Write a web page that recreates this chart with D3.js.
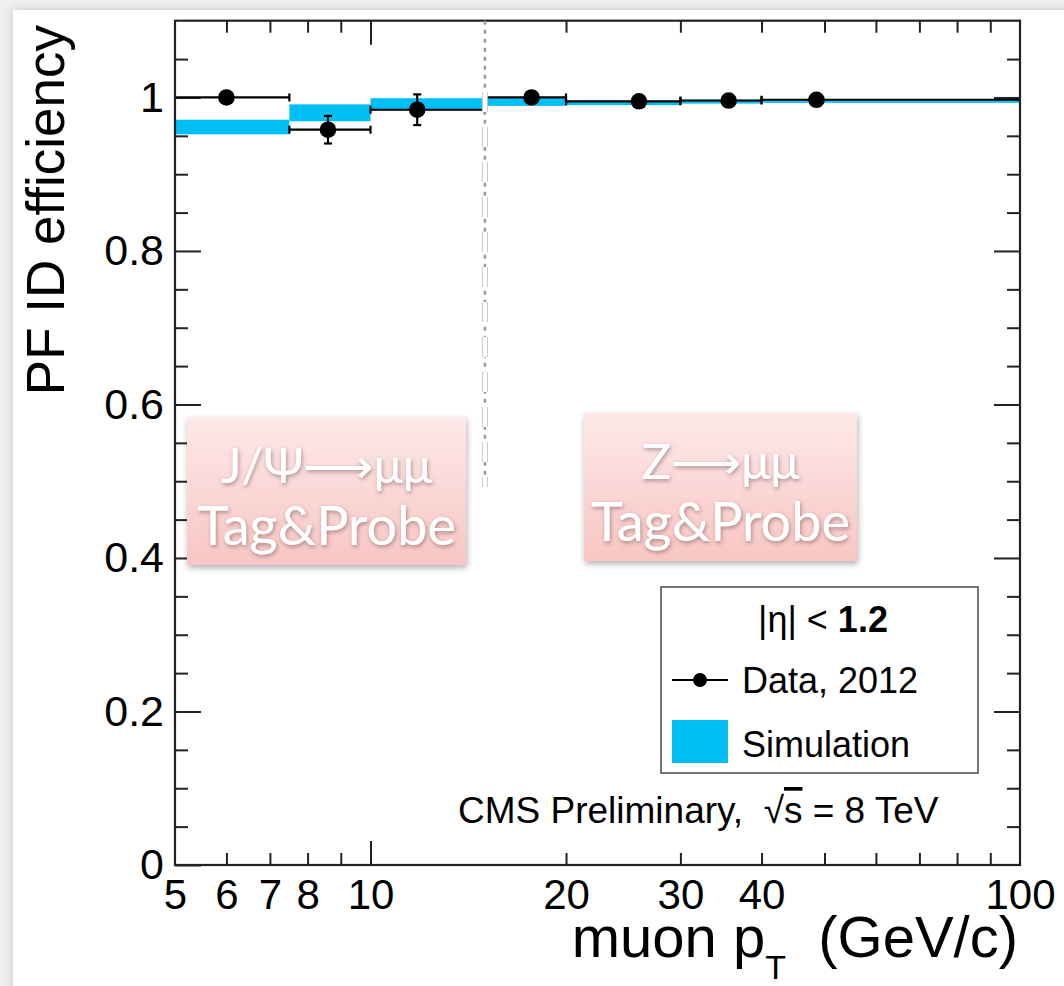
<!DOCTYPE html>
<html>
<head>
<meta charset="utf-8">
<script src="https://cdn.jsdelivr.net/npm/d3@7"></script>
<style>
  html, body { margin: 0; padding: 0; background: #efefef; }
  svg { display: block; }
  text { font-family: "Liberation Sans", Arial, sans-serif; fill: #000; }
  .box-text { font-family: Lato, "Open Sans", sans-serif; fill: #fff; }
</style>
</head>
<body>
<svg id="chart" width="1064" height="986"></svg>
<script>
// bins in muon pT (GeV/c)
const binLo = [5, 7.5, 10, 15, 20, 30, 40]
const binHi = [7.5, 10, 15, 20, 30, 40, 100]
// data points: mean pT inside each bin, efficiency, stat error
const ptMean = [6.0, 8.6, 11.8, 17.7, 25.9, 35.6, 48.6]
const effData = [1.000, 0.958, 0.984, 1.000, 0.995, 0.996, 0.997]
const errData = [0.003, 0.018, 0.020, 0.003, 0.002, 0.002, 0.002]
// simulation band (lower / upper edge)
const simLo = [0.952, 0.969, 0.983, 0.989, 0.990, 0.992, 0.993]
const simHi = [0.971, 0.991, 0.999, 0.999, 0.996, 0.997, 0.997]

const xTickLabels = [5, 6, 7, 8, 10, 20, 30, 40, 100]
const xMinorTicks = [6, 7, 8, 9, 20, 30, 40, 50, 60, 70, 80, 90]
const xMajorTicks = [10]
const yMajorTicks = [0, 0.2, 0.4, 0.6, 0.8, 1]
const yMinorTicks = d3.range(0.05, 1.1, 0.05).filter(v => Math.abs(v * 5 - Math.round(v * 5)) > 1e-6)

const boxes = [
  { x0: 187, x1: 466, y0: 417, y1: 565, top: 'J/Ψ⟶μμ', bottom: 'Tag&Probe' },
  { x0: 584, x1: 857, y0: 413, y1: 561, top: 'Z⟶μμ', bottom: 'Tag&Probe' }
]

const svg = d3.select('#chart')
const defs = svg.append('defs')

const shadow = defs.append('filter').attr('id', 'panelShadow')
  .attr('x', '-5%').attr('y', '-5%').attr('width', '110%').attr('height', '110%')
shadow.append('feDropShadow').attr('dx', 0).attr('dy', 0).attr('stdDeviation', 4)
  .attr('flood-color', '#000').attr('flood-opacity', 0.18)

const boxShadow = defs.append('filter').attr('id', 'boxShadow')
  .attr('x', '-10%').attr('y', '-10%').attr('width', '120%').attr('height', '125%')
boxShadow.append('feDropShadow').attr('dx', 1).attr('dy', 3).attr('stdDeviation', 3)
  .attr('flood-color', '#000').attr('flood-opacity', 0.3)

const textShadow = defs.append('filter').attr('id', 'textShadow')
  .attr('x', '-10%').attr('y', '-20%').attr('width', '120%').attr('height', '150%')
textShadow.append('feDropShadow').attr('dx', 1).attr('dy', 2).attr('stdDeviation', 2)
  .attr('flood-color', '#6b4b4b').attr('flood-opacity', 0.55)

const pink = defs.append('linearGradient').attr('id', 'pink')
  .attr('x1', 0).attr('y1', 0).attr('x2', 0).attr('y2', 1)
pink.append('stop').attr('offset', 0).attr('stop-color', '#fde9e9')
pink.append('stop').attr('offset', 1).attr('stop-color', '#f8c6c3')

// slide panel behind the plot
svg.append('rect')
  .attr('x', 13).attr('y', 10).attr('width', 1100).attr('height', 1100)
  .attr('fill', '#fff').attr('filter', 'url(#panelShadow)')

const frame = { left: 175, right: 1020, top: 20.7, bottom: 865 }

const x = d3.scaleLog().domain([5, 100]).range([frame.left, frame.right])
const y = d3.scaleLinear().domain([0, 1.1]).range([frame.bottom, frame.top])

const MAJOR = 26, MINOR = 13

// axes: ticks point inward, mirrored on top/right
const plot = svg.append('g')

const axisStyle = g => {
  g.select('.domain').remove()
  g.selectAll('.tick line').attr('stroke', '#222').attr('stroke-width', 2)
}

plot.append('g').attr('transform', `translate(0,${frame.bottom})`)
  .call(d3.axisBottom(x).tickValues(xMinorTicks).tickSize(-12).tickFormat(''))
  .call(axisStyle)
plot.append('g').attr('transform', `translate(0,${frame.bottom})`)
  .call(d3.axisBottom(x).tickValues(xMajorTicks).tickSize(-24).tickFormat(''))
  .call(axisStyle)
plot.append('g').attr('transform', `translate(0,${frame.top})`)
  .call(d3.axisTop(x).tickValues(xMinorTicks).tickSize(-12).tickFormat(''))
  .call(axisStyle)
plot.append('g').attr('transform', `translate(0,${frame.top})`)
  .call(d3.axisTop(x).tickValues(xMajorTicks).tickSize(-24).tickFormat(''))
  .call(axisStyle)

const xLabels = plot.append('g').attr('transform', `translate(0,${frame.bottom})`)
  .call(d3.axisBottom(x).tickValues(xTickLabels).tickSize(0).tickPadding(14).tickFormat(d3.format('d')))
  .call(g => g.select('.domain').remove())
xLabels.selectAll('text').attr('font-size', 42).style('font-family', '"Liberation Sans", Arial, sans-serif')

plot.append('g').attr('transform', `translate(${frame.left},0)`)
  .call(d3.axisLeft(y).tickValues(yMinorTicks).tickSize(-MINOR).tickFormat(''))
  .call(axisStyle)
const yAxis = plot.append('g').attr('transform', `translate(${frame.left},0)`)
  .call(d3.axisLeft(y).tickValues(yMajorTicks).tickSize(-MAJOR).tickPadding(11).tickFormat(d3.format('~g')))
  .call(axisStyle)
yAxis.selectAll('text').attr('font-size', 43).style('font-family', '"Liberation Sans", Arial, sans-serif')

plot.append('g').attr('transform', `translate(${frame.right},0)`)
  .call(d3.axisRight(y).tickValues(yMinorTicks).tickSize(-MINOR).tickFormat(''))
  .call(axisStyle)
plot.append('g').attr('transform', `translate(${frame.right},0)`)
  .call(d3.axisRight(y).tickValues(yMajorTicks.slice(1)).tickSize(-MAJOR).tickFormat(''))
  .call(axisStyle)

// simulation band
const bins = d3.range(binLo.length)
plot.append('g').selectAll('rect')
  .data(bins)
  .join('rect')
  .attr('x', i => x(binLo[i]))
  .attr('width', i => x(binHi[i]) - x(binLo[i]))
  .attr('y', i => y(simHi[i]))
  .attr('height', i => y(simLo[i]) - y(simHi[i]))
  .attr('fill', '#00bff5')

// data with error bars
const pts = plot.append('g').attr('stroke', '#000').attr('stroke-width', 2.2)
bins.forEach(i => {
  const g = pts.append('g')
  const cy = y(effData[i])
  g.append('line').attr('x1', x(binLo[i])).attr('x2', x(binHi[i])).attr('y1', cy).attr('y2', cy)
  ;[binLo[i], binHi[i]].forEach(v => {
    if (v === 5 || v === 100) return
    g.append('line').attr('x1', x(v)).attr('x2', x(v)).attr('y1', cy - 4).attr('y2', cy + 4)
  })
  const yt = y(effData[i] + errData[i]), yb = y(effData[i] - errData[i])
  if (yb - yt > 12) {
    g.append('line').attr('x1', x(ptMean[i])).attr('x2', x(ptMean[i])).attr('y1', yt).attr('y2', yb)
    ;[yt, yb].forEach(v => g.append('line')
      .attr('x1', x(ptMean[i]) - 4).attr('x2', x(ptMean[i]) + 4).attr('y1', v).attr('y2', v))
  }
  g.append('circle').attr('cx', x(ptMean[i])).attr('cy', cy).attr('r', 8.3)
    .attr('fill', '#000').attr('stroke', 'none')
})

// frame
plot.append('rect')
  .attr('x', frame.left).attr('y', frame.top)
  .attr('width', frame.right - frame.left).attr('height', frame.bottom - frame.top)
  .attr('fill', 'none').attr('stroke', '#222').attr('stroke-width', 2.2)

// J/psi vs Z split at 15 GeV
const splitX = x(15)
plot.append('line')
  .attr('x1', splitX).attr('x2', splitX).attr('y1', frame.top).attr('y2', 487)
  .attr('stroke', '#999').attr('stroke-width', 2.5).attr('stroke-dasharray', '4 5')
plot.append('line')
  .attr('x1', splitX).attr('x2', splitX).attr('y1', 92).attr('y2', 487)
  .attr('stroke', '#c8c8c8').attr('stroke-width', 6).attr('stroke-dasharray', '20 15')
plot.append('line')
  .attr('x1', splitX).attr('x2', splitX).attr('y1', 92).attr('y2', 487)
  .attr('stroke', '#fff').attr('stroke-width', 4).attr('stroke-dasharray', '20 15')

// axis titles
svg.append('text')
  .attr('transform', 'translate(64,25) rotate(-90)')
  .attr('text-anchor', 'end')
  .attr('font-size', 53)
  .text('PF ID efficiency')

const xt = svg.append('text')
  .attr('x', 1018).attr('y', 957)
  .attr('text-anchor', 'end')
  .attr('font-size', 58)
  .style('white-space', 'pre')
xt.append('tspan').text('muon p')
xt.append('tspan').attr('dy', 22).attr('font-size', 34).text('T')
xt.append('tspan').attr('dy', -22).text('  (GeV/c)')

// legend
const leg = svg.append('g')
leg.append('rect')
  .attr('x', 661).attr('y', 587).attr('width', 317).attr('height', 186)
  .attr('fill', '#fff').attr('stroke', '#555').attr('stroke-width', 1.6)
const head = leg.append('text').attr('x', 823).attr('y', 632)
  .attr('text-anchor', 'middle').attr('font-size', 36)
head.append('tspan').text('|η| < ')
head.append('tspan').attr('font-weight', 'bold').text('1.2')
leg.append('line').attr('x1', 672).attr('x2', 728).attr('y1', 680).attr('y2', 680)
  .attr('stroke', '#000').attr('stroke-width', 2.2)
leg.append('circle').attr('cx', 700).attr('cy', 680).attr('r', 7).attr('fill', '#000')
leg.append('text').attr('x', 742).attr('y', 693).attr('font-size', 36).text('Data, 2012')
leg.append('rect').attr('x', 672).attr('y', 720).attr('width', 56).attr('height', 43)
  .attr('fill', '#00bff5')
leg.append('text').attr('x', 742).attr('y', 757).attr('font-size', 36).text('Simulation')

const cms = svg.append('text').attr('x', 458).attr('y', 823).attr('font-size', 37)
  .style('white-space', 'pre')
cms.append('tspan').text('CMS Preliminary,  √')
cms.append('tspan').style('text-decoration', 'overline').text('s')
cms.append('tspan').text(' = 8 TeV')

// tag & probe labels pasted over the plot
const bx = svg.append('g').selectAll('g').data(boxes).join('g')
bx.append('rect')
  .attr('x', d => d.x0).attr('y', d => d.y0)
  .attr('width', d => d.x1 - d.x0).attr('height', d => d.y1 - d.y0)
  .attr('fill', 'url(#pink)').attr('filter', 'url(#boxShadow)')
bx.append('text').attr('class', 'box-text')
  .attr('x', d => (d.x0 + d.x1) / 2).attr('y', d => d.y0 + 66)
  .attr('text-anchor', 'middle').attr('font-size', 49)
  .attr('filter', 'url(#textShadow)')
  .text(d => d.top)
bx.append('text').attr('class', 'box-text')
  .attr('x', d => (d.x0 + d.x1) / 2).attr('y', d => d.y1 - 20)
  .attr('text-anchor', 'middle').attr('font-size', 54)
  .attr('filter', 'url(#textShadow)')
  .text(d => d.bottom)
</script>
</body>
</html>
